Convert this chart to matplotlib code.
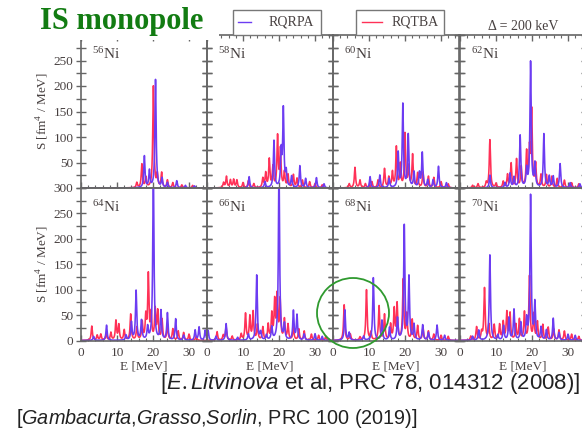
import numpy as np
import matplotlib
matplotlib.use("Agg")
import matplotlib.pyplot as plt
from matplotlib.patches import Ellipse, Rectangle
from matplotlib.lines import Line2D
from matplotlib.ticker import MultipleLocator

plt.rcParams['font.family'] = ['Liberation Serif', 'DejaVu Serif']
plt.rcParams['mathtext.fontset'] = 'custom'
plt.rcParams['mathtext.rm'] = 'Liberation Serif'
plt.rcParams['mathtext.it'] = 'Liberation Sans:italic'

# ---------------- discrete strength peaks (E in MeV, peak S in fm^4/MeV) ----------------
nuclei = ["56", "58", "60", "62", "64", "66", "68", "70"]

ni56_qrpa_e = [17.6, 19.0, 20.7, 22.5, 24.0, 26.6, 29.0, 31.5]
ni56_qrpa_s = [62, 33, 212, 18, 10, 14, 5, 4]
ni56_qtba_e = [15.5, 16.9, 18.0, 20.1, 21.2, 22.4, 24.0, 25.5, 28.0, 31.0]
ni56_qtba_s = [10, 46, 20, 199, 25, 29, 15, 10, 6, 5]

ni58_qrpa_e = [11.7, 16.1, 18.6, 20.6, 21.2, 22.0, 23.5, 25.8, 27.4, 30.4, 32.5]
ni58_qrpa_s = [22, 12, 92, 68, 152, 29, 22, 43, 18, 20, 8]
ni58_qtba_e = [4.6, 5.4, 6.5, 7.4, 8.3, 10.0, 11.5, 13.0, 15.5, 16.3, 17.3, 18.3, 19.6,
               20.4, 21.5, 22.5, 24.0, 25.0, 26.5, 28.5, 30.0, 32.0]
ni58_qtba_s = [10, 22, 15, 16, 15, 10, 14, 8, 18, 28, 55, 40, 100, 74, 30, 25, 25, 18, 15, 12, 8, 6]

ni60_qrpa_e = [10.3, 13.0, 15.6, 18.1, 19.4, 20.9, 22.5, 24.0, 24.8, 26.3, 27.8, 29.3, 31.5]
ni60_qrpa_s = [22, 25, 18, 68, 163, 103, 30, 28, 68, 15, 15, 42, 10]
ni60_qtba_e = [4.5, 6.1, 7.5, 9.0, 10.8, 12.5, 14.3, 15.5, 16.5, 17.6, 18.7, 20.0, 21.0,
               22.1, 23.5, 25.0, 26.5, 28.0, 30.0, 32.0]
ni60_qtba_s = [8, 40, 15, 8, 12, 15, 37, 20, 30, 79, 45, 105, 40, 64, 28, 30, 22, 20, 12, 8]

ni62_qrpa_e = [8.3, 12.5, 13.9, 15.0, 16.7, 18.5, 19.6, 20.8, 23.3, 24.8, 25.9, 27.8, 30.6, 33.3]
ni62_qrpa_s = [25, 10, 28, 20, 102, 35, 246, 45, 105, 22, 22, 47, 10, 8]
ni62_qtba_e = [3.5, 5.0, 7.3, 8.3, 10.0, 12.0, 13.2, 14.2, 15.7, 17.0, 18.5, 19.3, 19.9,
               21.0, 22.5, 24.0, 25.5, 27.0, 29.0, 31.0, 33.0]
ni62_qtba_s = [5, 8, 10, 94, 8, 12, 25, 47, 55, 40, 68, 70, 149, 45, 25, 25, 22, 18, 15, 10, 8]

ni64_qrpa_e = [3.5, 7.1, 12.5, 14.0, 15.3, 16.8, 18.5, 20.1, 22.2, 24.0, 26.3, 28.5, 31.7, 32.8, 34.5]
ni64_qrpa_s = [8, 30, 10, 35, 97, 38, 25, 335, 57, 53, 42, 10, 20, 26, 20]
ni64_qtba_e = [3.0, 4.5, 5.5, 7.0, 8.3, 9.7, 10.5, 12.0, 13.8, 15.5, 17.0, 18.0, 18.7, 19.5,
               20.6, 21.3, 22.5, 24.0, 25.5, 27.0, 28.5, 30.0, 32.0]
ni64_qtba_s = [28, 10, 12, 12, 15, 38, 30, 20, 51, 25, 35, 45, 127, 50, 59, 55, 40, 30, 22, 18, 15, 12, 8]

ni66_qrpa_e = [0.3, 2.5, 5.3, 8.5, 11.5, 13.8, 14.9, 16.5, 18.0, 20.0, 21.5, 24.0, 25.0, 27.0, 30.0, 32.0]
ni66_qrpa_s = [20, 8, 33, 6, 12, 128, 15, 10, 25, 345, 30, 57, 49, 12, 13, 8]
ni66_qtba_e = [2.8, 4.5, 5.3, 7.0, 9.5, 10.7, 11.9, 12.8, 14.0, 15.5, 17.0, 18.0, 18.8, 19.5,
               20.3, 21.5, 22.5, 24.0, 25.5, 27.0, 29.0, 31.0, 33.0]
ni66_qtba_s = [17, 10, 26, 8, 12, 52, 46, 55, 30, 25, 30, 50, 75, 85, 78, 40, 30, 25, 22, 18, 12, 10, 8]

ni68_qrpa_e = [3.3, 4.5, 8.5, 11.2, 13.6, 15.7, 17.9, 19.8, 21.1, 22.5, 24.9, 26.5, 28.9, 31.0]
ni68_qrpa_s = [60, 15, 8, 123, 39, 25, 43, 225, 123, 30, 30, 15, 30, 10]
ni68_qtba_e = [3.1, 4.8, 7.5, 9.3, 10.5, 12.8, 14.3, 16.0, 17.0, 17.8, 19.5, 20.5, 22.0,
               23.5, 25.0, 26.5, 28.0, 30.0, 32.0]
ni68_qtba_s = [70, 12, 6, 99, 15, 67, 50, 30, 60, 70, 118, 50, 40, 28, 25, 18, 12, 10, 8]

ni70_qrpa_e = [3.5, 5.2, 8.3, 10.5, 12.1, 13.6, 15.0, 16.9, 18.5, 19.6, 20.8, 22.5, 24.0, 25.9, 27.5, 30.0, 32.0]
ni70_qrpa_s = [8, 20, 168, 10, 28, 44, 60, 34, 40, 284, 72, 25, 20, 43, 15, 12, 10]
ni70_qtba_e = [3.0, 4.6, 6.0, 6.8, 8.0, 9.5, 11.0, 12.0, 13.0, 13.9, 15.5, 16.5, 17.9, 19.3,
               20.5, 21.5, 23.0, 24.5, 26.0, 27.5, 29.0, 31.0, 33.0]
ni70_qtba_s = [8, 26, 15, 102, 30, 30, 30, 35, 54, 52, 30, 40, 54, 125, 50, 35, 30, 25, 22, 20, 18, 12, 8]

qrpa_peaks = [(ni56_qrpa_e, ni56_qrpa_s), (ni58_qrpa_e, ni58_qrpa_s), (ni60_qrpa_e, ni60_qrpa_s),
              (ni62_qrpa_e, ni62_qrpa_s), (ni64_qrpa_e, ni64_qrpa_s), (ni66_qrpa_e, ni66_qrpa_s),
              (ni68_qrpa_e, ni68_qrpa_s), (ni70_qrpa_e, ni70_qrpa_s)]
qtba_peaks = [(ni56_qtba_e, ni56_qtba_s), (ni58_qtba_e, ni58_qtba_s), (ni60_qtba_e, ni60_qtba_s),
              (ni62_qtba_e, ni62_qtba_s), (ni64_qtba_e, ni64_qtba_s), (ni66_qtba_e, ni66_qtba_s),
              (ni68_qtba_e, ni68_qtba_s), (ni70_qtba_e, ni70_qtba_s)]

x_ticklabels = ["0", "10", "20", "30"]
y_ticklabels = ["0", "50", "100", "150", "200", "250", "300"]

DELTA = 0.2          # Lorentzian smearing half-width, MeV
E_MAX, S_MAX = 35, 300

C_QRPA = "#6c3cf2"
C_QTBA = "#ff3157"
AX_COL = "#666666"
TXT_COL = "#474040"

energy = np.linspace(0, E_MAX, 3501)


def smeared(e_list, s_list):
    out = np.zeros_like(energy)
    for e0, s0 in zip(e_list, s_list):
        out += s0 * DELTA ** 2 / ((energy - e0) ** 2 + DELTA ** 2)
    return out


W, H = 582, 434
fig = plt.figure(figsize=(W / 100, H / 100), dpi=100)


def fx(x):
    return x / W


def fy(y):
    return 1 - y / H


col_x = [81, 207, 333, 460]
col_w = 126
rows = [(35, 188), (188, 340.5)]

for k, nuc in enumerate(nuclei):
    r, c = divmod(k, 4)
    top, bot = rows[r]
    ax = fig.add_axes([fx(col_x[c]), fy(bot), col_w / W, (bot - top) / H])
    ax.set_xlim(0, E_MAX)
    ax.set_ylim(0, S_MAX)
    ax.set_facecolor("none")

    eq, sq = qtba_peaks[k]
    ax.plot(energy, smeared(eq, sq), color=C_QTBA, lw=1.15)
    ep, sp = qrpa_peaks[k]
    ax.plot(energy, smeared(ep, sp), color=C_QRPA, lw=1.15)

    for s in ax.spines.values():
        s.set_color(AX_COL)
        s.set_linewidth(1.2)

    ax.xaxis.set_major_locator(MultipleLocator(10))
    ax.xaxis.set_minor_locator(MultipleLocator(2))
    ax.yaxis.set_major_locator(MultipleLocator(50))
    ax.yaxis.set_minor_locator(MultipleLocator(25))

    ax.tick_params(axis="y", which="both", direction="inout", length=7, width=1.0,
                   color=AX_COL, left=True, right=True, labelsize=9.5, labelcolor=TXT_COL, pad=2)
    ax.tick_params(axis="x", which="major", direction="in", length=4.5, width=1.0,
                   color=AX_COL, labelsize=9.5, labelcolor=TXT_COL, pad=5)
    ax.tick_params(axis="x", which="minor", direction="in", length=2.5, width=0.8, color=AX_COL)
    ax.tick_params(axis="x", which="both", top=(r == 0), bottom=True)

    if r == 1:
        ax.set_xticks([0, 10, 20, 30])
        ax.set_xticklabels(x_ticklabels)
        ax.set_xlabel("E [MeV]", fontsize=9.5, color=TXT_COL, labelpad=1)
    else:
        ax.set_xticklabels([])

    if c == 0:
        ax.set_yticks([0, 50, 100, 150, 200, 250, 300])
        if r == 0:
            ax.set_yticklabels([""] + y_ticklabels[1:-1] + [""])
        else:
            ax.set_yticklabels(y_ticklabels)
        ax.set_ylabel("S [fm$^4$ / MeV]", fontsize=9.5, color=TXT_COL, labelpad=2)
    else:
        ax.set_yticklabels([])

    ax.text(0.09, 0.875, "$^{%s}$Ni" % nuc, transform=ax.transAxes, fontsize=11,
            color=TXT_COL, ha="left", va="center")

# white title band over the upper-left corner
fig.add_artist(Rectangle((0, fy(40)), fx(219), 1 - fy(40), transform=fig.transFigure,
                         facecolor="white", edgecolor="none", zorder=5))
fig.text(fx(40), fy(21), "IS monopole", fontsize=22, fontweight="bold", color="#127c12",
         ha="left", va="center", zorder=6)

# legend boxes
for (x0, x1, lx0, lx1, tx, name, col) in [(233, 321, 238, 251, 269, "RQRPA", C_QRPA),
                                           (356, 444, 362, 382, 392, "RQTBA", C_QTBA)]:
    fig.add_artist(Rectangle((fx(x0), fy(35)), (x1 - x0) / W, 25 / H, transform=fig.transFigure,
                             facecolor="white", edgecolor="#777777", lw=1.0, zorder=6))
    fig.add_artist(Line2D([fx(lx0), fx(lx1)], [fy(22), fy(22)], transform=fig.transFigure,
                          color=col, lw=1.0, zorder=7))
    fig.text(fx(tx), fy(22), name, fontsize=10, color=TXT_COL, ha="left", va="center", zorder=7)

fig.text(fx(488), fy(26), "Δ = 200 keV", fontsize=10, color=TXT_COL, ha="left", va="center")

# highlight around the low-energy 68Ni strength
fig.add_artist(Ellipse((fx(353), fy(313)), 72 / W, 70 / H, transform=fig.transFigure,
                       fill=False, edgecolor="#2f9a2f", lw=1.3, zorder=8))

# references
fig.text(fx(580), fy(384), r"[$\mathit{E.Litvinova}$ et al, PRC 78, 014312 (2008)]",
         family=["Liberation Sans", "DejaVu Sans"], fontsize=16, color="#222222",
         ha="right", va="center")
fig.text(fx(16), fy(419), r"[$\mathit{Gambacurta}$,$\mathit{Grasso}$,$\mathit{Sorlin}$, PRC 100 (2019)]",
         family=["Liberation Sans", "DejaVu Sans"], fontsize=14.3, color="#222222",
         ha="left", va="center")

fig.savefig("out.png", dpi=100)
